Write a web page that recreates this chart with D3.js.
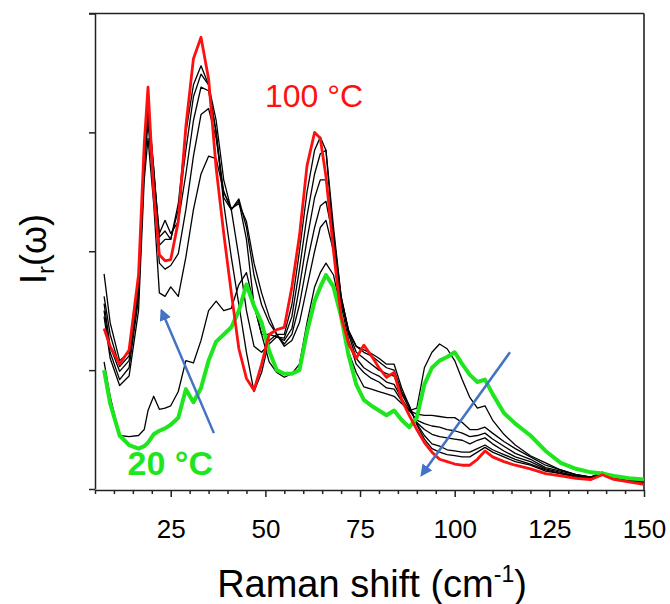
<!DOCTYPE html>
<html lang="en">
  <head>
    <meta charset="utf-8">
    <title>Raman spectra vs temperature</title>
    <script src="https://cdn.jsdelivr.net/npm/d3@7"></script>
    <style>
      body { margin: 0; background-color: white; }
      text { font-family: "Liberation Sans", Arial, sans-serif; }
    </style>
  </head>

  <body>
    <div id="container"></div>

<script>
    // Raman shift (cm-1) sample points shared by all spectra
    const shift = [7.4, 9, 11.5, 14, 16.5, 18, 19, 20.5, 22, 23.5,
      25, 27, 29, 31, 33, 35, 37, 39, 41, 43,
      45, 47, 49, 51, 53, 55, 57, 59, 61, 63,
      64.5, 66, 68, 70, 72, 74, 76, 78, 80, 82,
      84, 86, 88, 90, 92, 94, 96, 98, 100, 102,
      104, 106, 108, 110, 113, 116, 120, 124, 128, 132,
      136, 139, 142, 146, 150];

    // 20 °C (green)
    const t20 = [1.0, 0.72, 0.45, 0.37, 0.34, 0.36, 0.39, 0.46, 0.49, 0.51,
      0.54, 0.6, 0.84, 0.73, 0.85, 1.08, 1.24, 1.3, 1.36, 1.5,
      1.72, 1.54, 1.4, 1.16, 1.0, 0.97, 0.97, 1.0, 1.32, 1.58,
      1.7, 1.8, 1.7, 1.45, 1.12, 0.88, 0.75, 0.7, 0.66, 0.62,
      0.66, 0.58, 0.52, 0.6, 0.88, 1.02, 1.08, 1.11, 1.15, 1.05,
      0.96, 0.9, 0.92, 0.8, 0.64, 0.55, 0.45, 0.32, 0.22, 0.17,
      0.14, 0.13, 0.11, 0.09, 0.08];

    // intermediate temperatures (black), lowest to highest
    const mid1 = [1.07, 0.78, 0.45, 0.44, 0.45, 0.5, 0.66, 0.78, 0.67, 0.68,
      0.7, 0.82, 1.08, 1.06, 1.25, 1.5, 1.58, 1.5, 1.52, 1.72,
      1.82, 1.55, 1.3, 1.07, 0.98, 0.94, 0.97, 1.05, 1.4, 1.7,
      1.82, 1.9, 1.8, 1.5, 1.15, 0.98, 0.86, 0.84, 0.82, 0.8,
      0.78, 0.72, 0.66, 0.68, 1.02, 1.15, 1.22, 1.18, 1.08, 0.92,
      0.77, 0.68, 0.7, 0.58, 0.46, 0.37, 0.28, 0.22, 0.16, 0.12,
      0.1, 0.14, 0.1, 0.08, 0.06];
    const mid2 = [1.45, 1.1, 0.87, 0.95, 1.5, 2.6, 2.95, 2.4, 1.65, 1.62,
      1.7, 1.62, 1.95, 2.35, 2.65, 2.8, 2.78, 2.5, 2.36, 2.4,
      2.25, 1.9, 1.65, 1.45, 1.3, 1.2, 1.25, 1.4, 1.7, 2.0,
      2.2, 2.26, 2.0, 1.55, 1.25, 1.05, 0.98, 0.93, 0.9, 0.85,
      0.84, 0.74, 0.66, 0.63, 0.62, 0.62, 0.61, 0.6, 0.6, 0.56,
      0.5, 0.5, 0.52, 0.47, 0.4, 0.34, 0.27, 0.2, 0.16, 0.12,
      0.1, 0.14, 0.1, 0.08, 0.06];
    const mid3 = [1.5, 1.15, 0.92, 1.02, 1.6, 2.7, 3.08, 2.55, 1.9, 1.85,
      1.88, 1.98, 2.35, 2.8, 3.15, 3.2, 2.95, 2.5, 2.35, 2.44,
      2.2, 1.8, 1.55, 1.4, 1.3, 1.22, 1.3, 1.55, 1.9, 2.2,
      2.38, 2.42, 2.1, 1.6, 1.3, 1.1, 1.02, 0.98, 0.95, 0.9,
      0.88, 0.76, 0.66, 0.58, 0.55, 0.53, 0.52, 0.5, 0.49, 0.47,
      0.44, 0.45, 0.47, 0.42, 0.36, 0.3, 0.25, 0.18, 0.15, 0.12,
      0.1, 0.14, 0.1, 0.08, 0.06];
    const mid4 = [1.56, 1.2, 0.99, 1.08, 1.65, 2.75, 3.15, 2.65, 2.15, 2.26,
      2.15, 2.25, 2.65, 3.1, 3.38, 3.35, 3.0, 2.45, 2.35, 2.42,
      2.1, 1.55, 1.3, 1.3, 1.28, 1.25, 1.35, 1.7, 2.1, 2.45,
      2.6, 2.6, 2.15, 1.62, 1.32, 1.15, 1.1, 1.05, 1.0, 0.97,
      0.95, 0.8, 0.68, 0.56, 0.5, 0.46, 0.44, 0.43, 0.42, 0.41,
      0.38, 0.41, 0.43, 0.38, 0.32, 0.27, 0.23, 0.17, 0.14, 0.11,
      0.1, 0.13, 0.1, 0.07, 0.06];
    const mid5 = [1.62, 1.3, 1.03, 1.12, 1.7, 2.8, 3.2, 2.7, 2.12, 2.17,
      2.1, 2.35, 2.85, 3.3, 3.49, 3.4, 3.1, 2.6, 2.35, 1.95,
      1.5, 1.2, 1.15, 1.22, 1.28, 1.27, 1.45, 1.85, 2.3, 2.65,
      2.82, 2.85, 2.2, 1.62, 1.33, 1.2, 1.15, 1.12, 1.07, 1.02,
      1.0, 0.82, 0.7, 0.55, 0.45, 0.38, 0.36, 0.33, 0.32, 0.31,
      0.31, 0.34, 0.37, 0.33, 0.29, 0.25, 0.21, 0.16, 0.13, 0.11,
      0.09, 0.13, 0.09, 0.07, 0.05];
    const mid6 = [1.81, 1.4, 1.08, 1.15, 1.75, 2.85, 3.27, 2.7, 2.05, 2.1,
      2.1, 2.4, 3.0, 3.4, 3.56, 3.4, 3.0, 2.4, 1.95, 1.55,
      1.15, 0.82, 0.98, 1.25, 1.3, 1.3, 1.55, 2.0, 2.5, 2.85,
      2.96, 2.85, 2.1, 1.6, 1.33, 1.2, 1.17, 1.14, 1.1, 1.05,
      1.05, 0.85, 0.7, 0.54, 0.42, 0.34, 0.31, 0.29, 0.28, 0.27,
      0.27, 0.31, 0.35, 0.31, 0.27, 0.23, 0.2, 0.15, 0.13, 0.1,
      0.09, 0.13, 0.09, 0.07, 0.05];

    // 100 °C (red)
    const t100 = [1.35, 1.2, 1.05, 1.17, 1.8, 2.9, 3.38, 2.5, 1.97, 1.92,
      1.93, 2.25, 3.05, 3.62, 3.80, 3.45, 2.7, 2.15, 1.65, 1.18,
      0.93, 0.83, 1.05, 1.3, 1.34, 1.36, 1.7, 2.13, 2.72, 3.0,
      2.95, 2.63, 2.0, 1.45, 1.22, 1.1, 1.21, 1.12, 1.02, 0.94,
      0.98, 0.75, 0.62, 0.5, 0.39, 0.31, 0.25, 0.23, 0.21, 0.2,
      0.2, 0.25, 0.32, 0.27, 0.23, 0.2, 0.17, 0.13, 0.11, 0.09,
      0.08, 0.12, 0.08, 0.06, 0.04];

    const xTicks = d3.range(5, 151, 5);
    const xLabels = [25, 50, 75, 100, 125, 150];
    const yTicks = [0, 1, 2, 3, 4];

    // arrows: [fromShift, fromI, toShift, toI]
    const arrows = [[36.4, 0.47, 22.6, 1.50], [114.6, 1.15, 91.3, 0.12]];

    const width = 670, height = 604;

    const svg = d3.select("#container").append("svg")
      .attr("width", width)
      .attr("height", height);

    const x = d3.scaleLinear().domain([5, 150]).range([95, 644]);
    const y = d3.scaleLinear().domain([0, 4]).range([489, 13.5]);

    // frame top and right
    svg.append("line")
      .attr("x1", x(5) - 6).attr("x2", x(150))
      .attr("y1", y(4)).attr("y2", y(4))
      .attr("stroke", "#222").attr("stroke-width", 1.6);
    svg.append("line")
      .attr("x1", x(150)).attr("x2", x(150))
      .attr("y1", y(4)).attr("y2", y(0) + 1)
      .attr("stroke", "#222").attr("stroke-width", 1.6);

    // x axis
    const gx = svg.append("g")
      .attr("transform", `translate(0, ${y(0) + 1})`)
      .call(d3.axisBottom(x).tickValues(xTicks).tickSize(4).tickSizeOuter(0)
        .tickFormat((d) => xLabels.includes(d) ? d : ""));
    gx.selectAll(".tick line").filter((d) => xLabels.includes(d)).attr("y2", 7);
    gx.selectAll("line, path").attr("stroke", "#222").attr("stroke-width", 1.5);
    gx.selectAll("text").attr("y", 30).attr("fill", "black")
      .style("font-size", "26px").style("font-family", "'Liberation Sans', Arial, sans-serif");

    // y axis
    const gy = svg.append("g")
      .attr("transform", `translate(${x(5)}, 0)`)
      .call(d3.axisLeft(y).tickValues(yTicks).tickSize(6).tickSizeOuter(0).tickFormat(""));
    gy.selectAll("line, path").attr("stroke", "#222").attr("stroke-width", 1.5);

    const line = (vals) => d3.line()
      .x((d, i) => x(shift[i]))
      .y((d) => y(d))(vals);

    [mid1, mid2, mid3, mid4, mid5, mid6].forEach((s) => {
      svg.append("path")
        .attr("d", line(s))
        .attr("fill", "none")
        .attr("stroke", "black")
        .attr("stroke-width", 1.3)
        .attr("stroke-linejoin", "round");
    });

    svg.append("path")
      .attr("d", line(t20))
      .attr("fill", "none")
      .attr("stroke", "#1ee61e")
      .attr("stroke-width", 4)
      .attr("stroke-linejoin", "round");

    svg.append("path")
      .attr("d", line(t100))
      .attr("fill", "none")
      .attr("stroke", "#ff1010")
      .attr("stroke-width", 2.8)
      .attr("stroke-linejoin", "round");

    // arrows
    svg.append("defs").append("marker")
      .attr("id", "head")
      .attr("viewBox", "0 0 10 10")
      .attr("refX", 8).attr("refY", 5)
      .attr("markerWidth", 12).attr("markerHeight", 12)
      .attr("markerUnits", "userSpaceOnUse")
      .attr("orient", "auto")
      .append("path").attr("d", "M0,0 L10,5 L0,10 z").attr("fill", "#4472c4");

    svg.selectAll(".arrow")
      .data(arrows)
      .enter()
      .append("line")
      .attr("class", "arrow")
      .attr("x1", (d) => x(d[0])).attr("y1", (d) => y(d[1]))
      .attr("x2", (d) => x(d[2])).attr("y2", (d) => y(d[3]))
      .attr("stroke", "#4472c4")
      .attr("stroke-width", 2.5)
      .attr("marker-end", "url(#head)");

    // temperature labels
    svg.append("text")
      .attr("x", x(49.9)).attr("y", y(3.21))
      .attr("fill", "#ff1010")
      .style("font-size", "32px")
      .text("100 °C");
    svg.append("text")
      .attr("x", x(13.6)).attr("y", y(0.12))
      .attr("fill", "#1ee61e")
      .style("font-size", "34px")
      .style("font-weight", "bold")
      .text("20 °C");

    // axis titles
    const xt = svg.append("text")
      .attr("x", 372).attr("y", 597)
      .attr("text-anchor", "middle")
      .attr("fill", "black")
      .style("font-size", "38px");
    xt.append("tspan").text("Raman shift (cm");
    xt.append("tspan").attr("dy", -15).style("font-size", "23px").text("-1");
    xt.append("tspan").attr("dy", 15).text(")");

    const yt = svg.append("text")
      .attr("transform", "translate(46, 249) rotate(-90)")
      .attr("text-anchor", "middle")
      .attr("fill", "black")
      .style("font-size", "36px");
    yt.append("tspan").text("I");
    yt.append("tspan").attr("dy", 8).style("font-size", "24px").text("r");
    yt.append("tspan").attr("dy", -8).text("(ω)");
</script>
  </body>
</html>
